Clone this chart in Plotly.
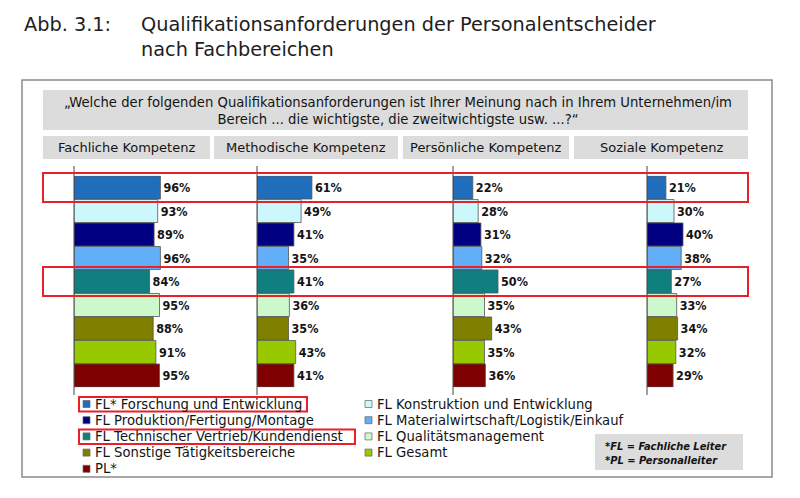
import plotly.graph_objects as go

# ---------------- data ----------------
series = [
    "FL* Forschung und Entwicklung",
    "FL Konstruktion und Entwicklung",
    "FL Produktion/Fertigung/Montage",
    "FL Materialwirtschaft/Logistik/Einkauf",
    "FL Technischer Vertrieb/Kundendienst",
    "FL Qualitätsmanagement",
    "FL Sonstige Tätigkeitsbereiche",
    "FL Gesamt",
    "PL*",
]
colors = ["#1F6DBB", "#CCF8FC", "#000080", "#63AFF7", "#0F7F7F",
          "#CCF8CC", "#7F7F00", "#98C800", "#7F0000"]
groups = ["Fachliche Kompetenz", "Methodische Kompetenz",
          "Persönliche Kompetenz", "Soziale Kompetenz"]
fachlich = [96, 93, 89, 96, 84, 95, 88, 91, 95]
methodisch = [61, 49, 41, 35, 41, 36, 35, 43, 41]
persoenlich = [22, 28, 31, 32, 50, 35, 43, 35, 36]
sozial = [21, 30, 40, 38, 27, 33, 34, 32, 29]
values = [fachlich, methodisch, persoenlich, sozial]

title_prefix = "Abb. 3.1:"
title_lines = ["Qualifikationsanforderungen der Personalentscheider", "nach Fachbereichen"]
question = ("„Welche der folgenden Qualifikationsanforderungen ist Ihrer Meinung nach in Ihrem Unternehmen/im<br>"
            "Bereich ... die wichtigste, die zweitwichtigste usw. ...?“")
footnote = "<b><i>*FL = Fachliche Leiter<br>*PL = Personalleiter</i></b>"
highlight_rows = [0, 4]

# ---------------- layout helpers ----------------
W, H = 800, 498
FONT = "DejaVu Sans, sans-serif"
FONT_C = "DejaVu Sans Condensed, DejaVu Sans, sans-serif"
TXT = "#141414"


def X(px):
    return px / W


def Y(py):
    return 1 - py / H


def note(x, y, text, size, xanchor="center", align="center", family=FONT, color=TXT):
    return dict(xref="paper", yref="paper", x=X(x), y=Y(y), xanchor=xanchor,
                yanchor="middle", align=align, text=text, showarrow=False,
                font=dict(size=size, color=color, family=family))


axis_x0 = [74, 257, 453, 647]
PX_PER_PCT = 0.9
XMAX = 130
y_top, y_bot = 175.75, 387.25

fig = go.Figure()
layout = dict(
    width=W, height=H, margin=dict(l=0, r=0, t=0, b=0),
    paper_bgcolor="white", plot_bgcolor="rgba(0,0,0,0)",
    showlegend=False, font=dict(family=FONT, color=TXT),
    bargap=0.02,
)

for i, vals in enumerate(values):
    n = "" if i == 0 else str(i + 1)
    fig.add_trace(go.Bar(
        x=vals, y=series, orientation="h",
        marker=dict(color=colors, line=dict(color="#555555", width=0.8)),
        text=[f"{v}%" for v in vals], textposition="outside",
        textfont=dict(family=FONT_C, size=12.5, color=TXT),
        texttemplate="<b>%{text}</b>",
        cliponaxis=False, constraintext="none",
        xaxis="x" + n, yaxis="y" + n, hoverinfo="skip",
    ))
    x0 = axis_x0[i]
    layout["xaxis" + n] = dict(
        domain=[X(x0), X(x0 + XMAX * PX_PER_PCT)], range=[0, XMAX],
        visible=False, fixedrange=True, anchor="y" + n)
    layout["yaxis" + n] = dict(
        domain=[Y(y_bot), Y(y_top)], autorange="reversed",
        visible=False, fixedrange=True, anchor="x" + n)

shapes = []
annotations = []

# outer frame
shapes.append(dict(type="rect", xref="paper", yref="paper",
                   x0=X(22), x1=X(772), y0=Y(477), y1=Y(80),
                   line=dict(color="#8A8A8A", width=1.5), layer="below"))
# question box
shapes.append(dict(type="rect", xref="paper", yref="paper",
                   x0=X(43), x1=X(748), y0=Y(130), y1=Y(90),
                   fillcolor="#DCDCDC", line=dict(width=0), layer="below"))
annotations.append(note(398, 111, question, 13.2))
# group header boxes
hdr = [(43, 210), (214, 398), (403, 569), (574, 748)]
for (a, b), g in zip(hdr, groups):
    shapes.append(dict(type="rect", xref="paper", yref="paper",
                       x0=X(a), x1=X(b), y0=Y(159), y1=Y(136),
                       fillcolor="#DCDCDC", line=dict(width=0), layer="below"))
    annotations.append(note((a + b) / 2, 148, g, 13))
# vertical axis lines
for x0 in axis_x0:
    shapes.append(dict(type="line", xref="paper", yref="paper",
                       x0=X(x0), x1=X(x0), y0=Y(395), y1=Y(166),
                       line=dict(color="#444444", width=1)))
# red highlight frames around rows
band = (y_bot - y_top) / len(series)
for r in highlight_rows:
    c = y_top + band * (r + 0.5)
    shapes.append(dict(type="rect", xref="paper", yref="paper",
                       x0=X(43), x1=X(748), y0=Y(c + 14.5), y1=Y(c - 14.5),
                       line=dict(color="#E8202A", width=2)))

# title
annotations.append(note(22, 25, title_prefix, 19.3, xanchor="left", color="#1E1E1E"))
for k, t in enumerate(title_lines):
    annotations.append(note(139, 25 + 24 * k, t, 19.3, xanchor="left", color="#1E1E1E"))

# custom legend (two columns)
leg_cols = [(83, 93), (365, 375)]
leg_rows = [404, 420.2, 436.4, 452.6, 468.8]
order = [(0, 0), (1, 0), (0, 1), (1, 1), (0, 2), (1, 2), (0, 3), (1, 3), (0, 4)]
for idx, (c, r) in enumerate(order):
    mx, tx = leg_cols[c]
    yy = leg_rows[r]
    shapes.append(dict(type="rect", xref="paper", yref="paper",
                       x0=X(mx), x1=X(mx + 7), y0=Y(yy + 3.5), y1=Y(yy - 3.5),
                       fillcolor=colors[idx], line=dict(color="#666666", width=0.7)))
    annotations.append(note(tx, yy, series[idx], 13.2, xanchor="left", align="left"))
# red frames around highlighted legend entries
leg_hl = [(0, 307), (2, 355)]
for r, xr in leg_hl:
    yy = leg_rows[r]
    shapes.append(dict(type="rect", xref="paper", yref="paper",
                       x0=X(79), x1=X(xr), y0=Y(yy + 7.5), y1=Y(yy - 7),
                       line=dict(color="#E8202A", width=2)))

# footnote box
shapes.append(dict(type="rect", xref="paper", yref="paper",
                   x0=X(595), x1=X(743), y0=Y(470), y1=Y(434),
                   fillcolor="#DCDCDC", line=dict(width=0), layer="below"))
annotations.append(note(603, 453, footnote, 11, xanchor="left", align="left", family=FONT_C))

layout["shapes"] = shapes
layout["annotations"] = annotations
fig.update_layout(**layout)
fig.write_html("out.html")
